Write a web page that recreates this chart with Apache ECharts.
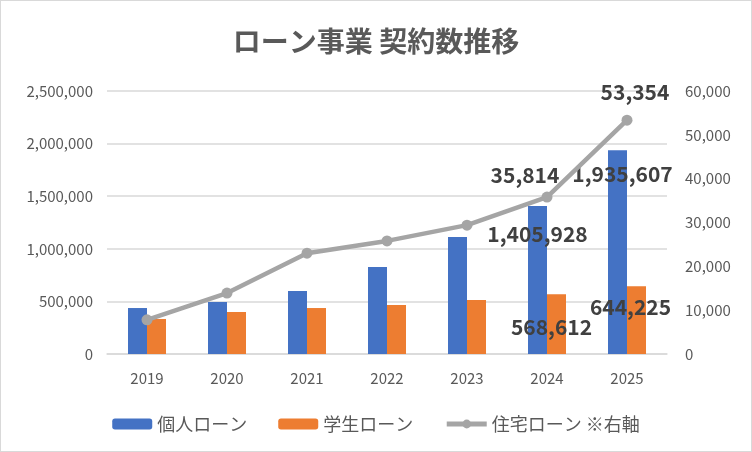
<!DOCTYPE html>
<html>
<head>
<meta charset="utf-8">
<script src="https://cdn.jsdelivr.net/npm/echarts@6/dist/echarts.min.js"></script>
<style>
  html, body { margin: 0; padding: 0; background: #fff; }
  #main { width: 750px; height: 450px; border: 1px solid #d9d9d9; }
</style>
</head>
<body>
<div id="main"></div>
<script>
var years = ['2019', '2020', '2021', '2022', '2023', '2024', '2025'];
var kojin = [437000, 494000, 599000, 827000, 1112000, 1405928, 1935607];
var gakusei = [333000, 399000, 437000, 466000, 513000, 568612, 644225];
var jutaku = [7800, 13900, 23000, 25800, 29400, 35814, 53354];
var leftTicks = [0, 500000, 1000000, 1500000, 2000000, 2500000];
var rightTicks = [0, 10000, 20000, 30000, 40000, 50000, 60000];

var font = '"Noto Sans CJK JP", "Noto Sans", sans-serif';
var labelStyle = {
    show: true,
    color: '#404040',
    fontSize: 21,
    fontWeight: 'bold',
    fontFamily: font,
    formatter: function (p) { return p.value.toLocaleString('en-US'); }
};
// only the last two years carry labels
function withLabels(arr, opts) {
    return arr.map(function (v, i) {
        if (i < arr.length - 2) return v;
        return { value: v, label: Object.assign({}, labelStyle, opts[i - (arr.length - 2)]) };
    });
}

var myChart = echarts.init(document.getElementById('main'));
myChart.setOption({
    backgroundColor: '#fff',
    animation: false,
    title: {
        text: 'ローン事業 契約数推移',
        left: 'center',
        top: 21,
        textStyle: { color: '#595959', fontSize: 28, fontWeight: 'bold', fontFamily: font }
    },
    legend: {
        bottom: 13,
        left: 'center',
        itemWidth: 40,
        itemHeight: 11,
        itemGap: 31,
        textStyle: { color: '#595959', fontSize: 18, fontFamily: font },
        data: ['個人ローン', '学生ローン', {
            name: '住宅ローン ※右軸',
            itemStyle: { color: '#a5a5a5' },
            lineStyle: { width: 5 }
        }]
    },
    grid: { left: 106, right: 84, top: 90, bottom: 97 },
    xAxis: {
        type: 'category',
        data: years,
        axisTick: { show: false },
        axisLine: { lineStyle: { color: '#d9d9d9', width: 1.5 } },
        axisLabel: { color: '#595959', fontSize: 15, margin: 17, fontFamily: font }
    },
    yAxis: [{
        type: 'value',
        min: leftTicks[0],
        max: leftTicks[leftTicks.length - 1],
        interval: leftTicks[1] - leftTicks[0],
        axisLabel: {
            color: '#595959', fontSize: 15, margin: 14, fontFamily: font,
            formatter: function (v) { return v.toLocaleString('en-US'); }
        },
        splitLine: { lineStyle: { color: '#d9d9d9', width: 1.5 } }
    }, {
        type: 'value',
        min: rightTicks[0],
        max: rightTicks[rightTicks.length - 1],
        interval: rightTicks[1] - rightTicks[0],
        axisLabel: {
            color: '#595959', fontSize: 15, margin: 18, fontFamily: font,
            formatter: function (v) { return v.toLocaleString('en-US'); }
        },
        splitLine: { show: false }
    }],
    series: [{
        name: '個人ローン',
        type: 'bar',
        barWidth: 19,
        barGap: '0%',
        itemStyle: { color: '#4472c4' },
        data: withLabels(kojin, [
            { position: 'insideTop', offset: [0, 12] },
            { position: 'insideTop', offset: [5, 8] }
        ])
    }, {
        name: '学生ローン',
        type: 'bar',
        barWidth: 19,
        itemStyle: { color: '#ed7d31' },
        data: withLabels(gakusei, [
            { position: 'insideTop', offset: [-5, 17] },
            { position: 'insideTop', offset: [-6, 5] }
        ])
    }, {
        name: '住宅ローン ※右軸',
        type: 'line',
        yAxisIndex: 1,
        symbol: 'circle',
        symbolSize: 11,
        lineStyle: { color: '#a5a5a5', width: 4.5 },
        itemStyle: { color: '#a5a5a5' },
        data: withLabels(jutaku, [
            { position: 'top', offset: [-22, -1] },
            { position: 'top', offset: [8, -7] }
        ])
    }]
});
</script>
</body>
</html>
